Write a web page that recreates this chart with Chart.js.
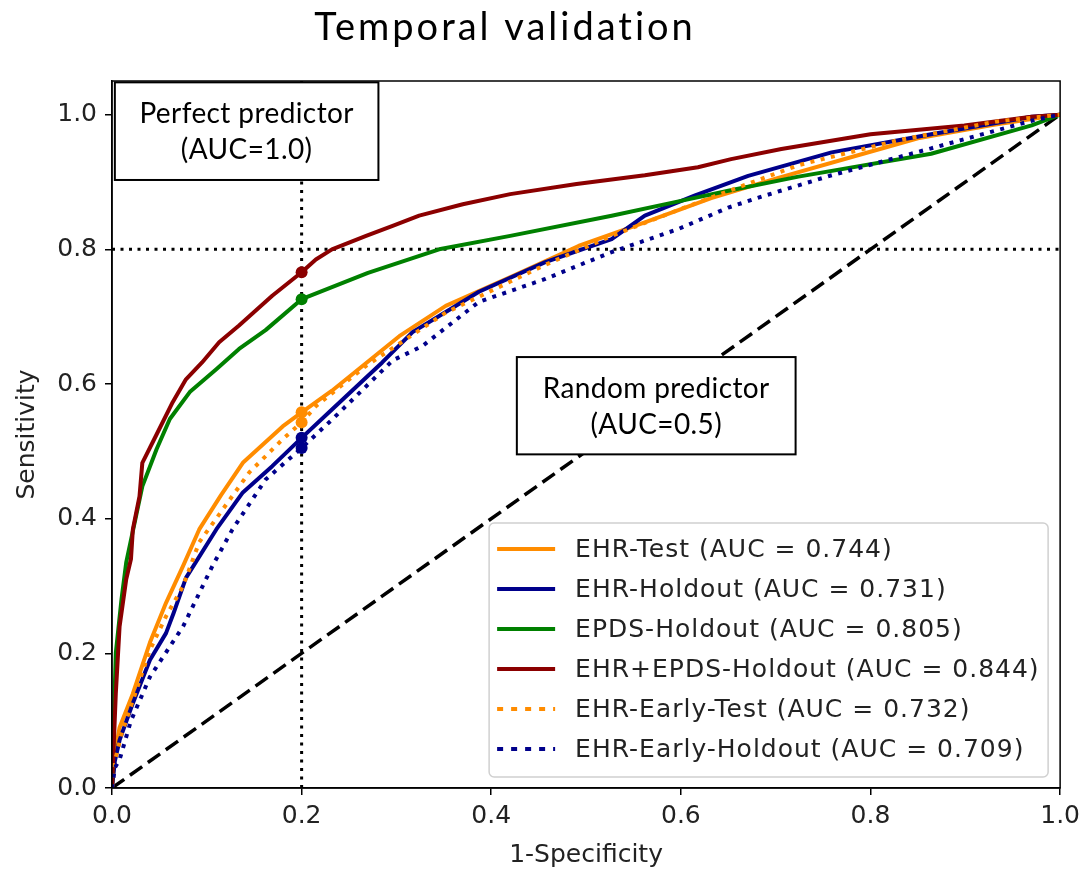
<!DOCTYPE html>
<html>
<head>
<meta charset="utf-8">
<script src="https://cdn.jsdelivr.net/npm/chart.js@4.4.0/dist/chart.umd.min.js"></script>
<style>
  html, body { margin: 0; padding: 0; background: #fff; }
  #wrap { width: 1086px; height: 870px; }
</style>
</head>
<body>
<div id="wrap"><canvas id="rocChart" width="1086" height="870"></canvas></div>
<script>
// ROC curves (fpr = 1-specificity, tpr = sensitivity)
const ehrTestFpr = [0, 0.003, 0.008, 0.022, 0.04, 0.057, 0.075, 0.092, 0.115, 0.138, 0.18, 0.2, 0.232, 0.303, 0.352, 0.422, 0.492, 0.562, 0.632, 0.70, 0.81, 0.85, 0.93, 1];
const ehrTestTpr = [0, 0.05, 0.09, 0.14, 0.216, 0.275, 0.33, 0.384, 0.435, 0.483, 0.537, 0.558, 0.59, 0.671, 0.716, 0.76, 0.805, 0.84, 0.876, 0.905, 0.949, 0.965, 0.985, 1];

const ehrHoldoutFpr = [0, 0.003, 0.008, 0.022, 0.04, 0.057, 0.065, 0.078, 0.11, 0.138, 0.169, 0.2, 0.232, 0.285, 0.317, 0.352, 0.387, 0.457, 0.527, 0.562, 0.615, 0.671, 0.759, 0.864, 0.97, 1];
const ehrHoldoutTpr = [0, 0.04, 0.071, 0.126, 0.19, 0.23, 0.26, 0.312, 0.384, 0.439, 0.478, 0.52, 0.562, 0.632, 0.677, 0.707, 0.737, 0.781, 0.815, 0.85, 0.88, 0.909, 0.944, 0.971, 0.997, 1];

const epdsFpr = [0, 0.004, 0.01, 0.015, 0.032, 0.047, 0.061, 0.082, 0.11, 0.134, 0.162, 0.2, 0.27, 0.345, 0.42, 0.527, 0.6, 0.65, 0.724, 0.864, 0.97, 1];
const epdsTpr = [0, 0.2, 0.28, 0.335, 0.448, 0.503, 0.548, 0.588, 0.622, 0.652, 0.68, 0.726, 0.765, 0.80, 0.82, 0.85, 0.872, 0.887, 0.908, 0.942, 0.984, 1];

const ehrEpdsFpr = [0, 0.004, 0.008, 0.015, 0.02, 0.022, 0.029, 0.032, 0.047, 0.064, 0.078, 0.095, 0.113, 0.134, 0.169, 0.2, 0.215, 0.232, 0.268, 0.296, 0.324, 0.37, 0.42, 0.49, 0.562, 0.618, 0.653, 0.706, 0.80, 0.899, 0.97, 1];
const ehrEpdsTpr = [0, 0.14, 0.24, 0.31, 0.34, 0.384, 0.433, 0.483, 0.525, 0.573, 0.607, 0.632, 0.662, 0.687, 0.731, 0.766, 0.785, 0.80, 0.82, 0.835, 0.85, 0.867, 0.882, 0.897, 0.91, 0.922, 0.934, 0.949, 0.971, 0.984, 0.997, 1];

const earlyTestFpr = [0, 0.003, 0.01, 0.022, 0.04, 0.057, 0.075, 0.092, 0.145, 0.18, 0.2, 0.215, 0.268, 0.352, 0.457, 0.527, 0.6, 0.653, 0.724, 0.829, 0.934, 1];
const earlyTestTpr = [0, 0.04, 0.08, 0.13, 0.205, 0.255, 0.30, 0.365, 0.469, 0.518, 0.543, 0.567, 0.627, 0.706, 0.777, 0.82, 0.86, 0.888, 0.925, 0.962, 0.99, 1];

const earlyHoldoutFpr = [0, 0.003, 0.008, 0.02, 0.04, 0.075, 0.106, 0.127, 0.162, 0.2, 0.232, 0.296, 0.327, 0.387, 0.457, 0.527, 0.597, 0.65, 0.689, 0.759, 0.864, 0.97, 1];
const earlyHoldoutTpr = [0, 0.03, 0.042, 0.10, 0.165, 0.24, 0.33, 0.384, 0.458, 0.505, 0.547, 0.635, 0.656, 0.722, 0.756, 0.796, 0.83, 0.862, 0.88, 0.91, 0.95, 0.991, 1];

const seriesNames = ["EHR-Test", "EHR-Holdout", "EPDS-Holdout", "EHR+EPDS-Holdout", "EHR-Early-Test", "EHR-Early-Holdout"];
const aucValues = ["0.744", "0.731", "0.805", "0.844", "0.732", "0.709"];
const seriesColors = ["#ff8c00", "#00008b", "#008000", "#8b0000", "#ff8c00", "#00008b"];
const seriesDotted = [false, false, false, false, true, true];

// operating point at 1-specificity = 0.2
const cutoffFpr = 0.2;
const cutoffTpr = [0.558, 0.52, 0.726, 0.766, 0.543, 0.505];
const targetSensitivity = 0.8;

const tickValues = [0, 0.2, 0.4, 0.6, 0.8, 1.0];

const fprLists = [ehrTestFpr, ehrHoldoutFpr, epdsFpr, ehrEpdsFpr, earlyTestFpr, earlyHoldoutFpr];
const tprLists = [ehrTestTpr, ehrHoldoutTpr, epdsTpr, ehrEpdsTpr, earlyTestTpr, earlyHoldoutTpr];

const toPoints = (xs, ys) => xs.map((x, i) => ({ x: x, y: ys[i] }));

let datasets = [];

// reference lines go underneath
datasets.push({ data: [{ x: 0, y: targetSensitivity }, { x: 1, y: targetSensitivity }], borderColor: "#000", borderWidth: 3, borderDash: [3, 5.5], order: 30 });
datasets.push({ data: [{ x: cutoffFpr, y: 0 }, { x: cutoffFpr, y: 1.05 }], borderColor: "#000", borderWidth: 3, borderDash: [3, 5.5], order: 30 });
datasets.push({ data: [{ x: 0, y: 0 }, { x: 1, y: 1 }], borderColor: "#000", borderWidth: 3.5, borderDash: [15, 7], order: 29 });

seriesNames.forEach((name, i) => {
    datasets.push({
        label: name,
        data: toPoints(fprLists[i], tprLists[i]),
        borderColor: seriesColors[i],
        borderWidth: 4,
        borderDash: seriesDotted[i] ? [4, 6.5] : [],
        borderJoinStyle: "round",
        order: 20 - i
    });
});

seriesNames.forEach((name, i) => {
    datasets.push({
        data: [{ x: cutoffFpr, y: cutoffTpr[i] }],
        showLine: false,
        pointRadius: 6,
        pointBackgroundColor: seriesColors[i],
        pointBorderWidth: 0,
        order: 10 - i
    });
});

// boxes, legend, frame and title drawn on top
const decorations = {
    id: "decorations",
    afterDatasetsDraw(chart) {
        const ctx = chart.ctx;
        const xs = chart.scales.x, ys = chart.scales.y;
        const area = chart.chartArea;

        ctx.save();
        // frame top/right
        ctx.strokeStyle = "#000";
        ctx.lineWidth = 1.5;
        ctx.strokeRect(area.left, area.top, area.right - area.left, area.bottom - area.top);

        // annotation boxes
        const drawBox = (x0, y0, x1, y1, lines) => {
            const l = xs.getPixelForValue(x0), r = xs.getPixelForValue(x1);
            const t = ys.getPixelForValue(y0), b = ys.getPixelForValue(y1);
            ctx.fillStyle = "#fff";
            ctx.fillRect(l, t, r - l, b - t);
            ctx.strokeStyle = "#000";
            ctx.lineWidth = 2;
            ctx.strokeRect(l, t, r - l, b - t);
            ctx.fillStyle = "#000";
            ctx.font = "28px Lato";
            ctx.letterSpacing = "0.4px";
            ctx.textAlign = "center";
            ctx.textBaseline = "alphabetic";
            ctx.fillText(lines[0], (l + r) / 2, t + 41);
            ctx.fillText(lines[1], (l + r) / 2, t + 77);
        };
        drawBox(0.003, 1.048, 0.281, 0.903, ["Perfect predictor", "(AUC=1.0)"]);
        drawBox(0.427, 0.640, 0.721, 0.4955, ["Random predictor", "(AUC=0.5)"]);

        // legend
        const lw = 559, lh = 254;
        const lx = area.right - 12 - lw, ly = area.bottom - 11 - lh;
        ctx.beginPath();
        ctx.roundRect(lx, ly, lw, lh, 5);
        ctx.fillStyle = "rgba(255,255,255,0.85)";
        ctx.fill();
        ctx.strokeStyle = "#d0d0d0";
        ctx.lineWidth = 1.5;
        ctx.stroke();
        ctx.font = "25px 'DejaVu Sans'";
        ctx.letterSpacing = "1px";
        ctx.textAlign = "left";
        ctx.textBaseline = "middle";
        seriesNames.forEach((name, i) => {
            const ry = ly + 26 + i * 40;
            ctx.beginPath();
            ctx.strokeStyle = seriesColors[i];
            ctx.lineWidth = 4;
            ctx.setLineDash(seriesDotted[i] ? [6, 8] : []);
            ctx.moveTo(lx + 8, ry);
            ctx.lineTo(lx + 66, ry);
            ctx.stroke();
            ctx.setLineDash([]);
            ctx.fillStyle = "#222";
            ctx.fillText(name + " (AUC = " + aucValues[i] + ")", lx + 86, ry + 1);
        });
        ctx.restore();
    },
    afterDraw(chart) {
        const ctx = chart.ctx;
        ctx.save();
        ctx.fillStyle = "#000";
        ctx.font = "38px Lato";
        ctx.letterSpacing = "3px";
        ctx.textAlign = "center";
        ctx.textBaseline = "alphabetic";
        ctx.fillText("Temporal validation", 505, 40);
        ctx.restore();
    }
};

const axisFont = { family: "DejaVu Sans", size: 25 };

new Chart(document.getElementById("rocChart").getContext("2d"), {
    type: "line",
    data: { datasets: datasets },
    plugins: [decorations],
    options: {
        responsive: false,
        animation: false,
        devicePixelRatio: 1,
        layout: { padding: { top: 81, right: 24, left: 0, bottom: 0 } },
        plugins: {
            legend: { display: false },
            title: { display: false },
            tooltip: { enabled: false }
        },
        elements: { point: { radius: 0 }, line: { tension: 0, fill: false } },
        scales: {
            x: {
                type: "linear",
                min: 0,
                max: 1,
                afterBuildTicks: s => { s.ticks = tickValues.map(v => ({ value: v })); },
                ticks: { callback: v => v.toFixed(1), font: axisFont, color: "#222", padding: 6, maxRotation: 0, autoSkip: false },
                grid: { drawOnChartArea: false, drawTicks: true, tickLength: 7, color: "#000", lineWidth: 1.5 },
                border: { display: true, color: "#000", width: 1.5 },
                title: { display: true, text: "1-Specificity", font: axisFont, color: "#222", padding: { top: 0, bottom: 0 } },
                afterFit: s => { s.height = 82; }
            },
            y: {
                type: "linear",
                min: 0,
                max: 1.05,
                afterBuildTicks: s => { s.ticks = tickValues.map(v => ({ value: v })); },
                ticks: { callback: v => v.toFixed(1), font: axisFont, color: "#222", padding: 8, autoSkip: false },
                grid: { drawOnChartArea: false, drawTicks: true, tickLength: 7, color: "#000", lineWidth: 1.5 },
                border: { display: true, color: "#000", width: 1.5 },
                title: { display: true, text: "Sensitivity", font: axisFont, color: "#222", padding: { top: 12, bottom: 0 } },
                afterFit: s => { s.width = 112; }
            }
        }
    }
});
</script>
</body>
</html>
